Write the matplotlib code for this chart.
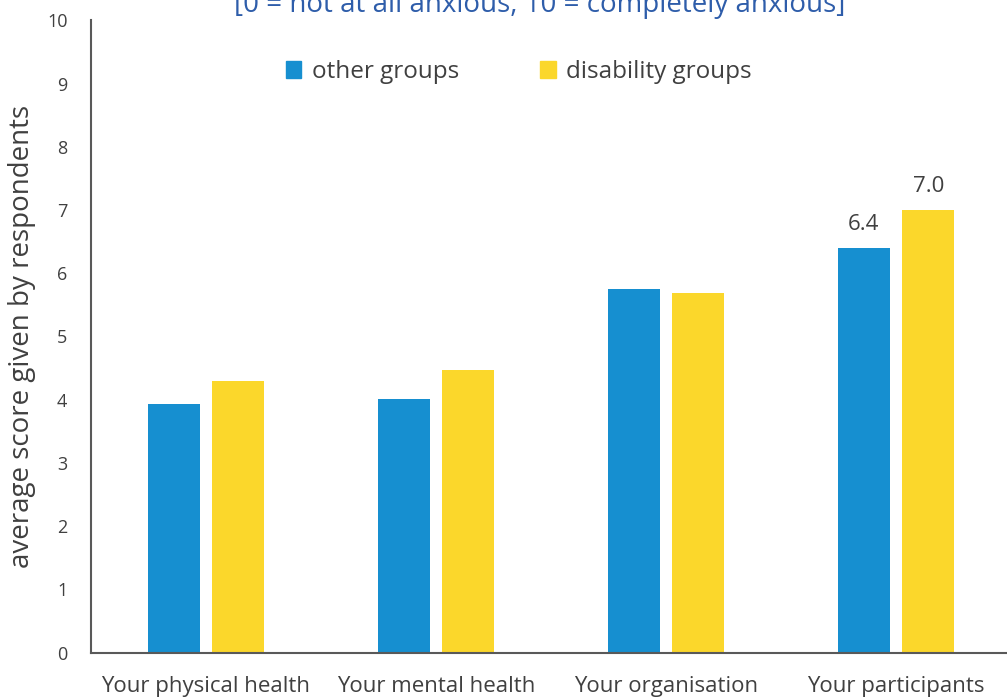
import numpy as np
import matplotlib
matplotlib.use('Agg')
import matplotlib.pyplot as plt
from matplotlib.patches import Patch

plt.rcParams['font.family'] = ['Open Sans', 'DejaVu Sans']

categories = ['Your physical health', 'Your mental health', 'Your organisation', 'Your participants']
other_groups = [3.93, 4.01, 5.75, 6.4]
disability_groups = [4.29, 4.47, 5.68, 7.0]
labelled = {3: (6.4, 7.0)}

blue = '#168fd0'
yellow = '#fbd72b'
text_grey = '#404040'

fig = plt.figure(figsize=(10.07, 6.97), dpi=100)
ax = fig.add_axes([0.0904, 0.0638, 0.9136, 0.907])

x = np.arange(len(categories))
w = 0.226
off = 0.141
ax.bar(x - off, other_groups, w, color=blue)
ax.bar(x + off, disability_groups, w, color=yellow)

for i, (a, b) in labelled.items():
    ax.text(i - off, a + 0.2, f'{a:.1f}', ha='center', va='bottom', fontsize=16, color=text_grey)
    ax.text(i + off, b + 0.2, f'{b:.1f}', ha='center', va='bottom', fontsize=16, color=text_grey)

ax.set_xlim(-0.5, 3.5)
ax.set_ylim(0, 10)
ax.set_yticks(range(0, 11))
ax.set_xticks(x)
ax.set_xticklabels(categories, fontsize=16, color=text_grey)
ax.tick_params(axis='y', length=0, pad=17, labelsize=13, labelcolor=text_grey)
ax.tick_params(axis='x', length=0, pad=17)
for s in ['top', 'right']:
    ax.spines[s].set_visible(False)
for s in ['left', 'bottom']:
    ax.spines[s].set_color('#595959')
    ax.spines[s].set_linewidth(1.5)

ax.set_ylabel('average score given by respondents', fontsize=20, color=text_grey, labelpad=8)

handles = [Patch(color=blue, label='other groups'), Patch(color=yellow, label='disability groups')]
ax.legend(handles=handles, loc='upper center', bbox_to_anchor=(0.465, 0.972), ncol=2, frameon=False,
          fontsize=17.5, labelcolor=text_grey, handlelength=0.65, handleheight=0.65,
          handletextpad=0.45, columnspacing=3.3)

fig.text(0.536, 1 - 12 / 697, '[0 = not at all anxious, 10 = completely anxious]',
         ha='center', va='baseline', fontsize=20, color='#2e5daa')

fig.savefig('out.png', dpi=100)
